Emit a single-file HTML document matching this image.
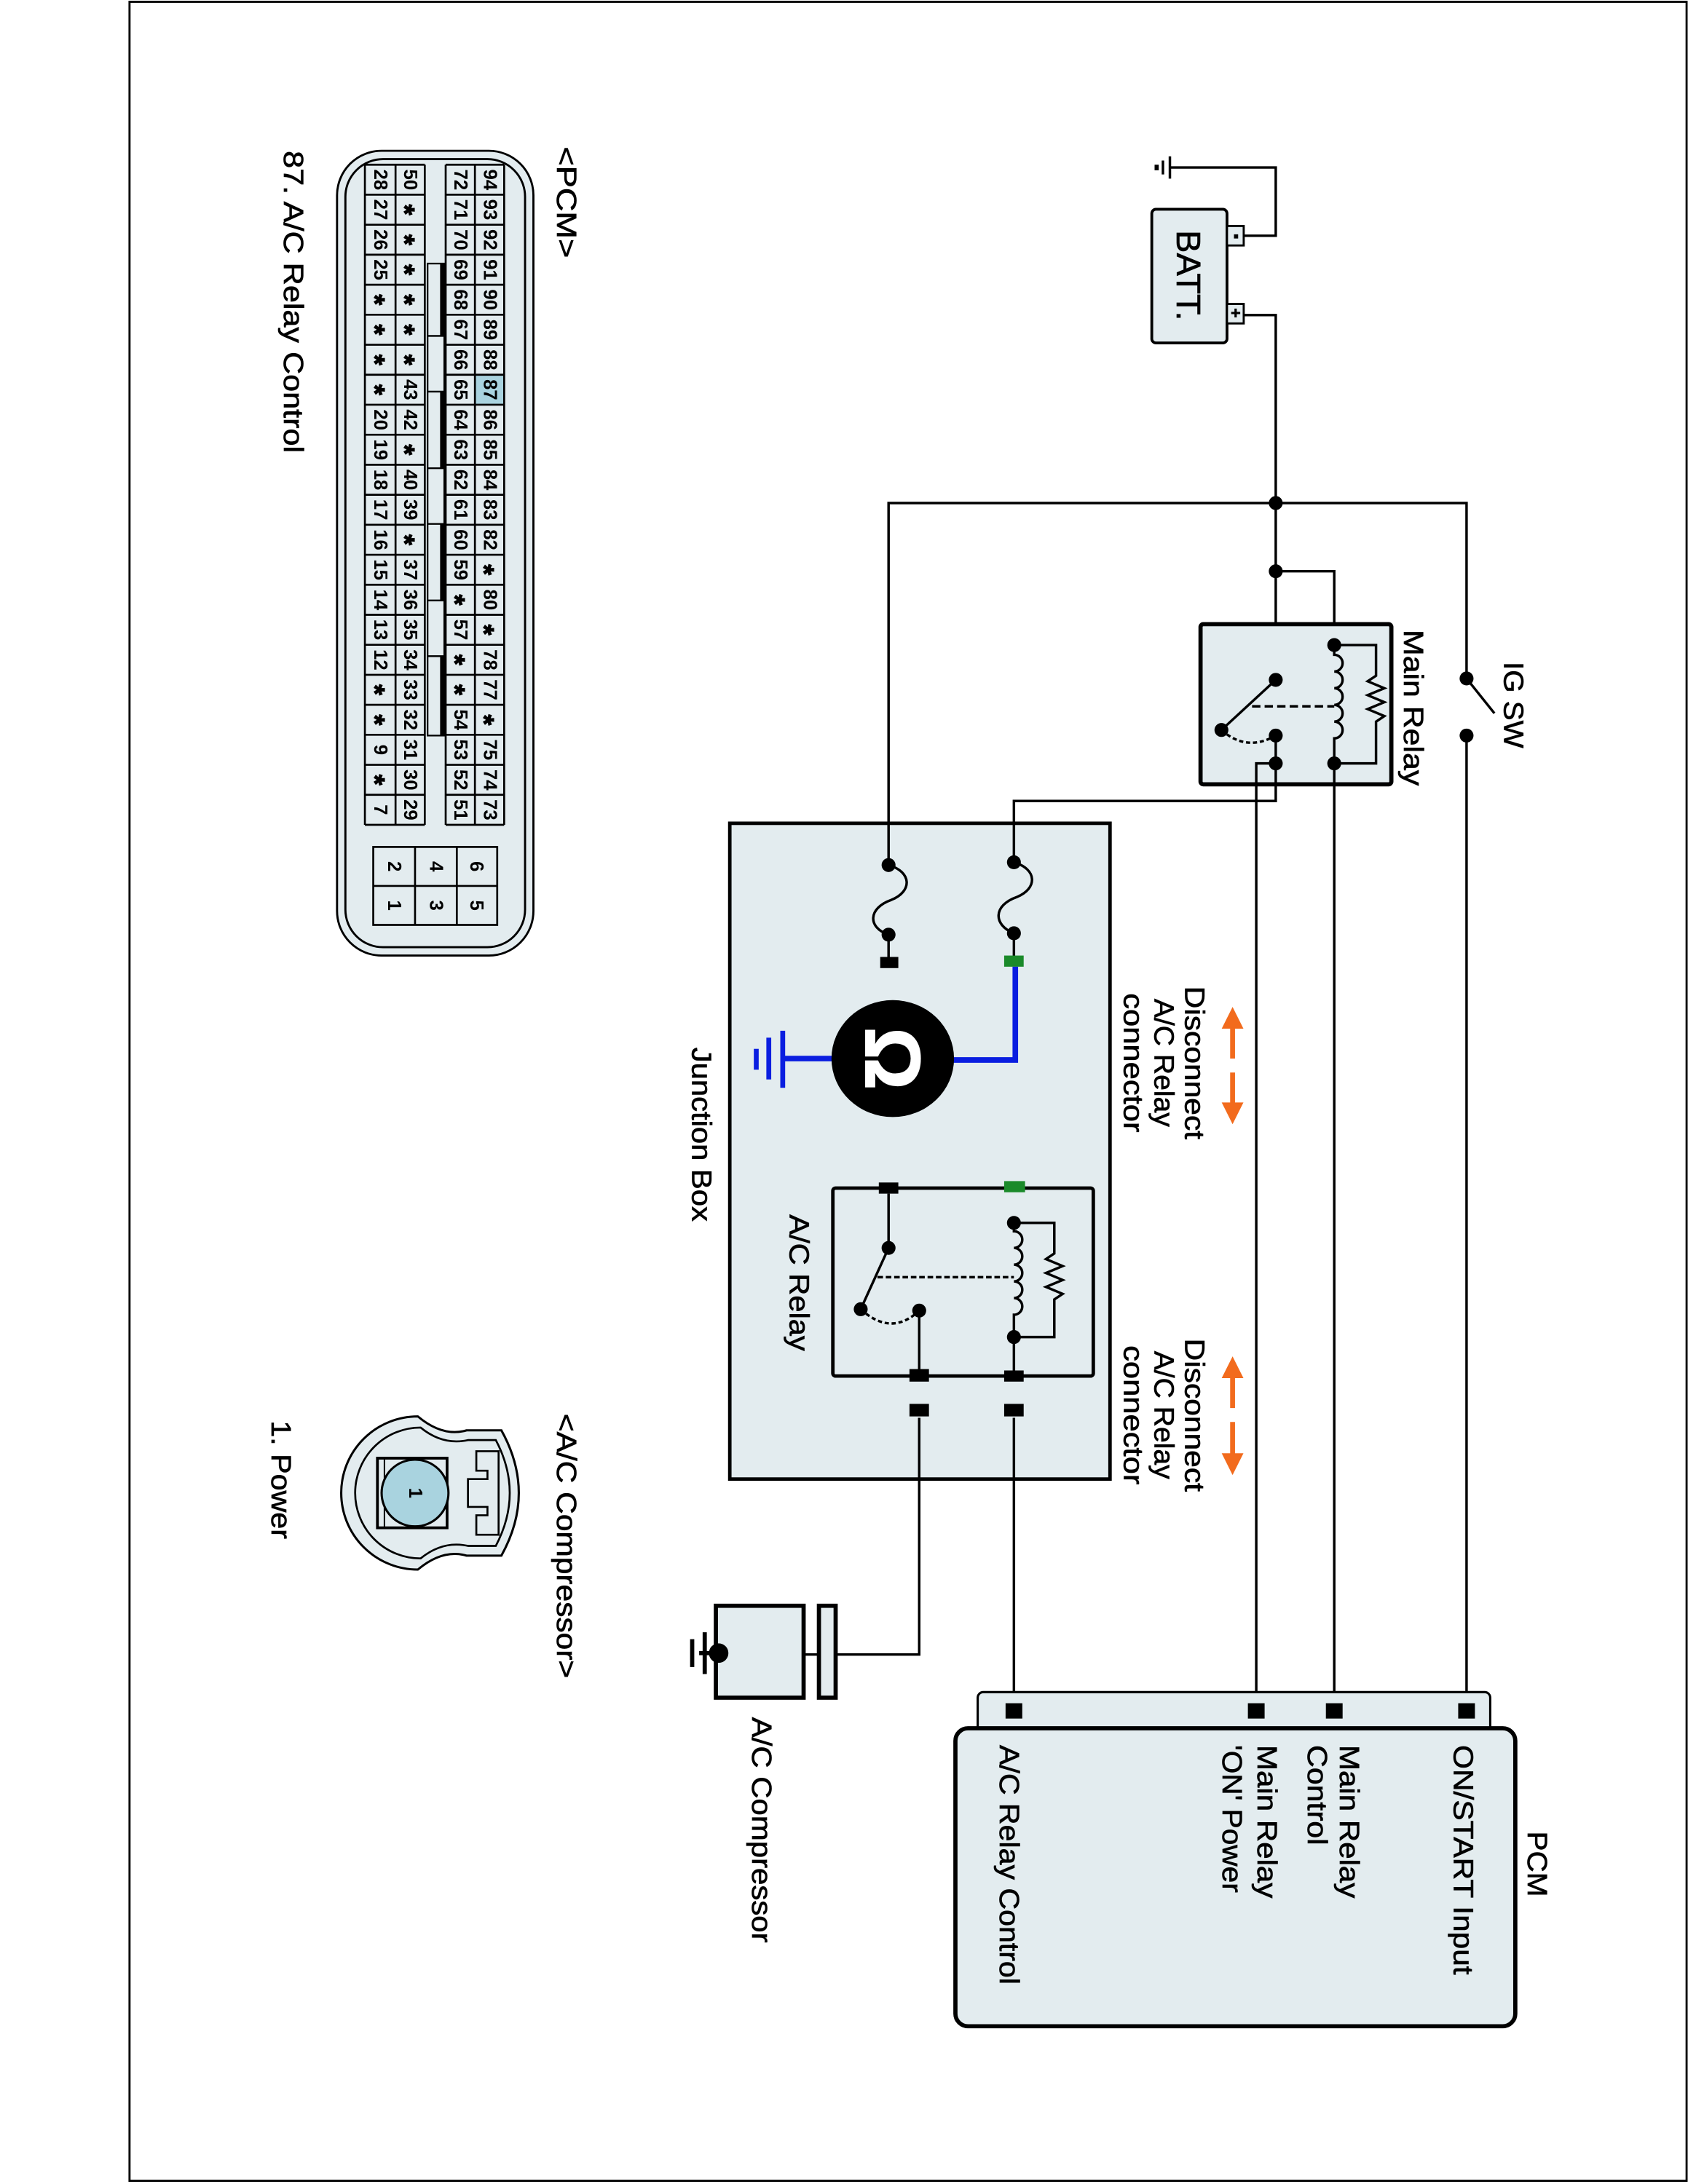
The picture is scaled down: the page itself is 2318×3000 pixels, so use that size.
<!DOCTYPE html>
<html><head><meta charset="utf-8"><style>
html,body{margin:0;padding:0;background:#fff}
svg{display:block}
text{font-family:"Liberation Sans",sans-serif;fill:#000;stroke:#000;stroke-width:0.35px}
.t{font-size:20px}
.n{font-size:13.5px;font-weight:bold;text-anchor:middle;dominant-baseline:central;stroke-width:0}
.s{font-size:20px;font-weight:bold;stroke-width:0.6px}
</style></head><body>
<svg width="2318" height="3000" viewBox="0 0 1212 1568" xmlns="http://www.w3.org/2000/svg">
<rect x="0" y="0" width="1212" height="1568" fill="#fff"/>
<rect x="93" y="1" width="1118" height="1565" fill="none" stroke="#000" stroke-width="1.5"/>

<rect x="242" y="108" width="141" height="578" rx="32" fill="#e3ecef" stroke="#000" stroke-width="1.5"/>
<rect x="248" y="114" width="129" height="566" rx="27" fill="none" stroke="#000" stroke-width="1.5"/>
<rect x="320" y="118" width="42" height="474" fill="#e3ecef"/>
<rect x="262" y="118" width="43" height="474" fill="#e3ecef"/>
<rect x="341" y="268.85" width="21" height="21.55" fill="#a9d3df"/>
<path fill="none" stroke="#000" stroke-width="1.4" d="M320 118V592.1M341 118V592.1M362 118V592.1M262 118V592.1M284 118V592.1M305 118V592.1
M320 118H362M262 118H305M320 139.55H362M262 139.55H305M320 161.1H362M262 161.1H305M320 182.65H362M262 182.65H305M320 204.2H362M262 204.2H305M320 225.75H362M262 225.75H305M320 247.3H362M262 247.3H305M320 268.85H362M262 268.85H305M320 290.4H362M262 290.4H305M320 311.95H362M262 311.95H305M320 333.5H362M262 333.5H305M320 355.05H362M262 355.05H305M320 376.6H362M262 376.6H305M320 398.15H362M262 398.15H305M320 419.7H362M262 419.7H305M320 441.25H362M262 441.25H305M320 462.8H362M262 462.8H305M320 484.35H362M262 484.35H305M320 505.9H362M262 505.9H305M320 527.45H362M262 527.45H305M320 549H362M262 549H305M320 570.55H362M262 570.55H305M320 592.1H362M262 592.1H305"/>
<g fill="#e3ecef" stroke="#000" stroke-width="1.2">
<rect x="307" y="189" width="12" height="52"/><rect x="307" y="241" width="12" height="40"/>
<rect x="307" y="281" width="12" height="55"/><rect x="307" y="336" width="12" height="40"/>
<rect x="307" y="376" width="12" height="55"/><rect x="307" y="431" width="12" height="40"/>
<rect x="307" y="471" width="12" height="57"/>
</g>
<g fill="#000"><rect x="316" y="189" width="4" height="52"/><rect x="316" y="281" width="4" height="55"/><rect x="316" y="376" width="4" height="55"/><rect x="316" y="471" width="4" height="57"/></g>

<g transform="translate(351.5,118) rotate(90)">
<text class="n" x="10.8">94</text><text class="n" x="32.3">93</text><text class="n" x="53.9">92</text><text class="n" x="75.4">91</text><text class="n" x="97">90</text><text class="n" x="118.5">89</text><text class="n" x="140.1">88</text><text class="n" x="161.6">87</text><text class="n" x="183.2">86</text><text class="n" x="204.7">85</text><text class="n" x="226.3">84</text><text class="n" x="247.8">83</text><text class="n" x="269.4">82</text><text class="n s" x="290.9" dy="4">*</text><text class="n" x="312.5">80</text><text class="n s" x="334" dy="4">*</text><text class="n" x="355.6">78</text><text class="n" x="377.1">77</text><text class="n s" x="398.7" dy="4">*</text><text class="n" x="420.2">75</text><text class="n" x="441.8">74</text><text class="n" x="463.3">73</text>
</g>
<g transform="translate(330.5,118) rotate(90)">
<text class="n" x="10.8">72</text><text class="n" x="32.3">71</text><text class="n" x="53.9">70</text><text class="n" x="75.4">69</text><text class="n" x="97">68</text><text class="n" x="118.5">67</text><text class="n" x="140.1">66</text><text class="n" x="161.6">65</text><text class="n" x="183.2">64</text><text class="n" x="204.7">63</text><text class="n" x="226.3">62</text><text class="n" x="247.8">61</text><text class="n" x="269.4">60</text><text class="n" x="290.9">59</text><text class="n s" x="312.5" dy="4">*</text><text class="n" x="334">57</text><text class="n s" x="355.6" dy="4">*</text><text class="n s" x="377.1" dy="4">*</text><text class="n" x="398.7">54</text><text class="n" x="420.2">53</text><text class="n" x="441.8">52</text><text class="n" x="463.3">51</text>
</g>
<g transform="translate(294.5,118) rotate(90)">
<text class="n" x="10.8">50</text><text class="n s" x="32.3" dy="4">*</text><text class="n s" x="53.9" dy="4">*</text><text class="n s" x="75.4" dy="4">*</text><text class="n s" x="97" dy="4">*</text><text class="n s" x="118.5" dy="4">*</text><text class="n s" x="140.1" dy="4">*</text><text class="n" x="161.6">43</text><text class="n" x="183.2">42</text><text class="n s" x="204.7" dy="4">*</text><text class="n" x="226.3">40</text><text class="n" x="247.8">39</text><text class="n s" x="269.4" dy="4">*</text><text class="n" x="290.9">37</text><text class="n" x="312.5">36</text><text class="n" x="334">35</text><text class="n" x="355.6">34</text><text class="n" x="377.1">33</text><text class="n" x="398.7">32</text><text class="n" x="420.2">31</text><text class="n" x="441.8">30</text><text class="n" x="463.3">29</text>
</g>
<g transform="translate(273,118) rotate(90)">
<text class="n" x="10.8">28</text><text class="n" x="32.3">27</text><text class="n" x="53.9">26</text><text class="n" x="75.4">25</text><text class="n s" x="97" dy="4">*</text><text class="n s" x="118.5" dy="4">*</text><text class="n s" x="140.1" dy="4">*</text><text class="n s" x="161.6" dy="4">*</text><text class="n" x="183.2">20</text><text class="n" x="204.7">19</text><text class="n" x="226.3">18</text><text class="n" x="247.8">17</text><text class="n" x="269.4">16</text><text class="n" x="290.9">15</text><text class="n" x="312.5">14</text><text class="n" x="334">13</text><text class="n" x="355.6">12</text><text class="n s" x="377.1" dy="4">*</text><text class="n s" x="398.7" dy="4">*</text><text class="n" x="420.2">9</text><text class="n s" x="441.8" dy="4">*</text><text class="n" x="463.3">7</text>
</g>
<rect x="268" y="608" width="89" height="56" fill="#e3ecef" stroke="#000" stroke-width="1.4"/>
<path d="M268 636H357M298 608V664M328 608V664" stroke="#000" stroke-width="1.4"/>
<text class="n" transform="translate(342,622) rotate(90)">6</text><text class="n" transform="translate(342,650) rotate(90)">5</text>
<text class="n" transform="translate(313,622) rotate(90)">4</text><text class="n" transform="translate(313,650) rotate(90)">3</text>
<text class="n" transform="translate(283,622) rotate(90)">2</text><text class="n" transform="translate(283,650) rotate(90)">1</text>
<text class="t" transform="translate(400,105) rotate(90)" textLength="80" lengthAdjust="spacingAndGlyphs">&lt;PCM&gt;</text>
<text class="t" transform="translate(204,108) rotate(90)" textLength="217" lengthAdjust="spacingAndGlyphs">87. A/C Relay Control</text>

<path d="M300 1017 A55 55 0 1 0 300 1127 Q318 1112 335 1117 L360 1117 Q385 1072 360 1027 L335 1027 Q318 1032 300 1017 Z" fill="#e3ecef" stroke="#000" stroke-width="1.6"/>
<path d="M302 1025 A47 47 0 1 0 302 1119 Q318 1106 336 1110 L356 1110 Q376 1072 356 1034 L336 1034 Q318 1038 302 1025 Z" fill="none" stroke="#000" stroke-width="1.4"/>
<rect x="271" y="1047" width="50" height="50" fill="#e3ecef" stroke="#000" stroke-width="2"/>
<line x1="276" y1="1047" x2="276" y2="1097" stroke="#000" stroke-width="1"/>
<circle cx="298" cy="1072" r="24" fill="#a9d3df" stroke="#000" stroke-width="1.6"/>
<text class="n" transform="translate(298,1072) rotate(90)">1</text>
<path d="M342 1042H358V1102H342V1088H350V1082H336V1062H350V1056H342Z" fill="none" stroke="#000" stroke-width="1.4"/>
<text class="t" transform="translate(400,1015) rotate(90)" textLength="190" lengthAdjust="spacingAndGlyphs">&lt;A/C Compressor&gt;</text>
<text class="t" transform="translate(195,1020) rotate(90)" textLength="85" lengthAdjust="spacingAndGlyphs">1. Power</text>

<rect x="827" y="150" width="54" height="96" rx="3" fill="#e3ecef" stroke="#000" stroke-width="2"/>
<rect x="881" y="162" width="12" height="14" fill="#e3ecef" stroke="#000" stroke-width="1.5"/>
<rect x="881" y="218" width="12" height="14" fill="#e3ecef" stroke="#000" stroke-width="1.5"/>
<rect x="886" y="168" width="3" height="3" fill="#000"/>
<text style="font-size:12px;font-weight:bold" transform="translate(883,221) rotate(90)">+</text>
<text class="t" style="font-size:24px" transform="translate(845,165) rotate(90)" textLength="65" lengthAdjust="spacingAndGlyphs">BATT.</text>
<g fill="none" stroke="#000" stroke-width="1.8">
<path d="M893 169H916V120H840"/>
<path d="M840 112V128M835 115V125"/>
<path d="M893 226H916V488"/>
<path d="M638 615V361H1053V487"/>
<path d="M916 410H958V463"/>
<path d="M1053 528V1228"/>
<path d="M1053 487L1073 512"/>
</g>
<rect x="829" y="118" width="3" height="4" fill="#000"/>
<text class="t" transform="translate(1080,475) rotate(90)" textLength="62" lengthAdjust="spacingAndGlyphs">IG SW</text>

<rect x="862" y="448" width="137" height="115" rx="2" fill="#e3ecef" stroke="#000" stroke-width="3"/>
<g fill="none" stroke="#000" stroke-width="1.8">
<path d="M958 463V470 a6 6 0 0 1 0 12 a6 6 0 0 1 0 12 a6 6 0 0 1 0 12 a6 6 0 0 1 0 12 a6 6 0 0 1 0 12 V548"/>
<path d="M958 463H988V485l-6 4 12 5-12 5 12 5-12 5 12 5-6 4V548H958"/>
<path d="M916 488L877 524"/>
<path d="M877 524Q895 540 916 528" stroke-dasharray="3 2"/>
<path d="M899 507H958" stroke-dasharray="6 3"/>
<path d="M916 527V575H728V615"/>
<path d="M916 548H902V1228"/>
<path d="M958 548V1228"/>
</g>
<g fill="#000">
<circle cx="916" cy="361" r="5"/><circle cx="916" cy="410" r="5"/>
<circle cx="1053" cy="487" r="5"/><circle cx="1053" cy="528" r="5"/>
<circle cx="958" cy="463" r="5"/><circle cx="958" cy="548" r="5"/>
<circle cx="916" cy="488" r="5"/><circle cx="877" cy="524" r="5"/>
<circle cx="916" cy="528" r="5"/><circle cx="916" cy="548" r="5"/>
</g>
<text class="t" transform="translate(1008,452) rotate(90)" textLength="112" lengthAdjust="spacingAndGlyphs">Main Relay</text>

<g text-anchor="middle">
<text class="t" transform="translate(851,763) rotate(90)" textLength="110" lengthAdjust="spacingAndGlyphs">Disconnect</text>
<text class="t" transform="translate(829,763) rotate(90)" textLength="92" lengthAdjust="spacingAndGlyphs">A/C Relay</text>
<text class="t" transform="translate(807,763) rotate(90)" textLength="100" lengthAdjust="spacingAndGlyphs">connector</text>
<text class="t" transform="translate(851,1016) rotate(90)" textLength="110" lengthAdjust="spacingAndGlyphs">Disconnect</text>
<text class="t" transform="translate(829,1016) rotate(90)" textLength="92" lengthAdjust="spacingAndGlyphs">A/C Relay</text>
<text class="t" transform="translate(807,1016) rotate(90)" textLength="100" lengthAdjust="spacingAndGlyphs">connector</text>
</g>
<g stroke="#f26b1d" stroke-width="3.5" fill="#f26b1d">
<path d="M885 734V760M885 770V797" />
<path d="M885 724L878 738H892Z" stroke-width="1"/><path d="M885 806L878 792H892Z" stroke-width="1"/>
<path d="M885 985V1011M885 1021V1048"/>
<path d="M885 975L878 989H892Z" stroke-width="1"/><path d="M885 1058L878 1044H892Z" stroke-width="1"/>
</g>

<rect x="524" y="591" width="273" height="471" fill="#e3ecef" stroke="#000" stroke-width="2.5"/>
<g fill="none" stroke="#000" stroke-width="1.8">
<path d="M638 591V621 C655 626 655 640 640 646 C623 652 623 666 638 671 V688"/>
<path d="M728 591V619 C745 624 745 638 730 644 C713 650 713 664 728 670 V688"/>
</g>
<g fill="#000"><circle cx="638" cy="621" r="5"/><circle cx="638" cy="671" r="5"/><circle cx="728" cy="619" r="5"/><circle cx="728" cy="670" r="5"/>
<rect x="632" y="687" width="13" height="8"/></g>
<rect x="721" y="686" width="14" height="8" fill="#1a8a2a"/>
<g stroke="#0a1ee0" stroke-width="4" fill="none">
<path d="M729 694V761H680"/>
<path d="M600 760H562"/>
<path d="M562 740V781M552 745V775" stroke-width="3.5"/><path d="M543 753V768" stroke-width="3.5"/>
</g>
<ellipse cx="641" cy="760" rx="44" ry="42" fill="#000"/>
<text transform="translate(641,760) rotate(90)" text-anchor="middle" dominant-baseline="central" style="font-size:56px;font-weight:bold;fill:#fff;stroke:#fff;stroke-width:1px">Ω</text>
<text class="t" transform="translate(497,752) rotate(90)" textLength="125" lengthAdjust="spacingAndGlyphs">Junction Box</text>

<rect x="598" y="853" width="187" height="135" rx="2" fill="#e3ecef" stroke="#000" stroke-width="2.5"/>
<g fill="none" stroke="#000" stroke-width="1.8">
<path d="M728 878V884 a6 6 0 0 1 0 12 a6 6 0 0 1 0 12 a6 6 0 0 1 0 12 a6 6 0 0 1 0 12 a6 6 0 0 1 0 12 V988"/>
<path d="M728 878H757V900l-6 4 12 5-12 5 12 5-12 5 12 5-6 4V960H728"/>
<path d="M638 857V896L618 940"/>
<path d="M630 917H728" stroke-dasharray="4 2"/>
<path d="M618 940Q640 960 660 941" stroke-dasharray="3 2"/>
<path d="M660 941V988"/>
<path d="M660 1018V1188H600M577 1188H588"/>
<path d="M728 1018V1228"/>
</g>
<g fill="#000"><circle cx="728" cy="878" r="5"/><circle cx="728" cy="960" r="5"/><circle cx="638" cy="896" r="5"/><circle cx="618" cy="940" r="5"/><circle cx="660" cy="941" r="5"/>
<rect x="631" y="849" width="14" height="8"/>
<rect x="653" y="983" width="14" height="9"/><rect x="721" y="984" width="14" height="8"/>
<rect x="653" y="1008" width="14" height="9"/><rect x="721" y="1008" width="14" height="9"/></g>
<rect x="721" y="848" width="15" height="8" fill="#1a8a2a"/>
<text class="t" transform="translate(567,872) rotate(90)" textLength="98" lengthAdjust="spacingAndGlyphs">A/C Relay</text>

<rect x="514" y="1153" width="63" height="66" fill="#e3ecef" stroke="#000" stroke-width="3"/>
<rect x="588" y="1153" width="12" height="66" fill="#e3ecef" stroke="#000" stroke-width="3"/>
<circle cx="516" cy="1187" r="7" fill="#000"/>
<path d="M510 1187H502M506 1172V1202M497 1177V1197" stroke="#000" stroke-width="3" fill="none"/>
<text class="t" transform="translate(540,1233) rotate(90)" textLength="162" lengthAdjust="spacingAndGlyphs">A/C Compressor</text>

<rect x="702" y="1215" width="368" height="40" rx="4" fill="#e3ecef" stroke="#000" stroke-width="1.6"/>
<rect x="686" y="1241" width="402" height="214" rx="9" fill="#e3ecef" stroke="#000" stroke-width="3"/>
<g fill="#000"><rect x="722" y="1223" width="12" height="11"/><rect x="896" y="1223" width="12" height="11"/><rect x="952" y="1223" width="12" height="11"/><rect x="1047" y="1223" width="12" height="11"/></g>
<text class="t" transform="translate(1097,1315) rotate(90)" textLength="47" lengthAdjust="spacingAndGlyphs">PCM</text>
<text class="t" transform="translate(1044,1253) rotate(90)" textLength="165" lengthAdjust="spacingAndGlyphs">ON/START Input</text>
<text class="t" transform="translate(962,1253) rotate(90)" textLength="110" lengthAdjust="spacingAndGlyphs">Main Relay</text>
<text class="t" transform="translate(939,1253) rotate(90)" textLength="72" lengthAdjust="spacingAndGlyphs">Control</text>
<text class="t" transform="translate(903,1253) rotate(90)" textLength="110" lengthAdjust="spacingAndGlyphs">Main Relay</text>
<text class="t" transform="translate(878,1253) rotate(90)" textLength="106" lengthAdjust="spacingAndGlyphs">'ON' Power</text>
<text class="t" transform="translate(718,1253) rotate(90)" textLength="172" lengthAdjust="spacingAndGlyphs">A/C Relay Control</text>
</svg>
</body></html>
